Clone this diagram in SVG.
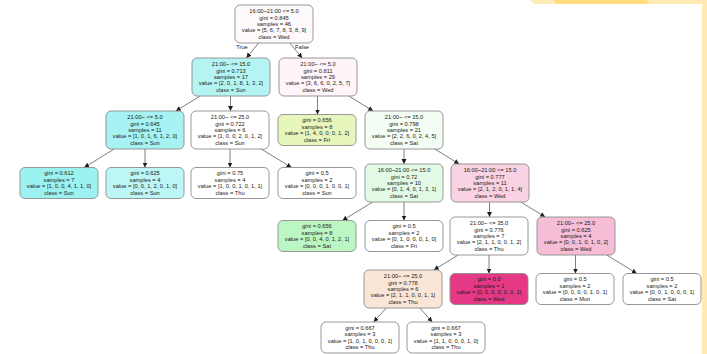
<svg xmlns="http://www.w3.org/2000/svg" width="707" height="354" viewBox="0 0 707 354">
  <style>
    .box { stroke: #8c8c8c; stroke-width: 0.9; }
    .t { font-family: "Liberation Sans", Arial, sans-serif; font-size: 5.7px; fill: #1a1a1a; text-anchor: middle; }
    .edge { stroke: #707070; stroke-width: 0.9; fill: none; marker-end: url(#arrow); }
  </style>
  <defs>
    <marker id="arrow" markerUnits="userSpaceOnUse" markerWidth="6" markerHeight="6" refX="5" refY="2.5" orient="auto">
      <path d="M0,0 L5,2.5 L0,5 Z" fill="#1e1e1e"/>
    </marker>
  </defs>

  <rect x="0" y="0" width="707" height="354" fill="#ffffff"/>

  <!-- frame accents, upper right -->
  <g id="frame">
    <polygon points="530,0 707,0 707,4 534,4" fill="#ffebb3"/>
    <polygon points="553,0 646,0 650,4 557,4" fill="#ffdd7c"/>
    <rect x="702" y="0" width="5" height="354" fill="#ffebb3"/>
  </g>

  <!-- connectors -->
  <g id="edges">
    <line class="edge" x1="258.6" y1="43" x2="246.4" y2="58"/>
    <line class="edge" x1="289.8" y1="43" x2="302.2" y2="58"/>
    <line class="edge" x1="200.2" y1="96" x2="175.8" y2="111"/>
    <line class="edge" x1="230.5" y1="96" x2="230.5" y2="111"/>
    <line class="edge" x1="317.5" y1="96" x2="317.5" y2="114.5"/>
    <line class="edge" x1="348.8" y1="96" x2="373.2" y2="111"/>
    <line class="edge" x1="114.2" y1="149" x2="84.2" y2="167.5"/>
    <line class="edge" x1="145" y1="149" x2="145" y2="167.5"/>
    <line class="edge" x1="230" y1="149" x2="230" y2="167.5"/>
    <line class="edge" x1="261.2" y1="149" x2="291.6" y2="167.5"/>
    <line class="edge" x1="404" y1="149" x2="404" y2="164"/>
    <line class="edge" x1="434.8" y1="149" x2="459.2" y2="164"/>
    <line class="edge" x1="372.8" y1="202" x2="342.4" y2="220.5"/>
    <line class="edge" x1="404" y1="202" x2="404" y2="220.5"/>
    <line class="edge" x1="489.5" y1="202" x2="489.5" y2="217"/>
    <line class="edge" x1="520.8" y1="202" x2="545.2" y2="217"/>
    <line class="edge" x1="458.2" y1="255" x2="433.8" y2="270"/>
    <line class="edge" x1="489" y1="255" x2="489" y2="273.5"/>
    <line class="edge" x1="575.5" y1="255" x2="575.5" y2="273.5"/>
    <line class="edge" x1="606.8" y1="255" x2="636.8" y2="273.5"/>
    <line class="edge" x1="386.2" y1="308" x2="373.7" y2="322"/>
    <line class="edge" x1="419.8" y1="308" x2="432.3" y2="322"/>
    <text class="t" x="242" y="49">True</text>
    <text class="t" x="302" y="49">False</text>
  </g>

  <!-- decision nodes (5 lines) and leaves (4 lines) -->
  <g id="n0">
    <rect class="box" x="235" y="5" width="78" height="38" rx="5" fill="#fef9fb"/>
    <text class="t" x="274" y="13.2">16:00~21:00 &lt;= 5.0<tspan x="274" dy="6.4">gini = 0.845</tspan><tspan x="274" dy="6.4">samples = 46</tspan><tspan x="274" dy="6.4">value = [5, 6, 7, 8, 3, 8, 9]</tspan><tspan x="274" dy="6.4">class = Wed</tspan></text>
  </g>
  <g id="n1">
    <rect class="box" x="192" y="58" width="78" height="38" rx="5" fill="#b4f5f4"/>
    <text class="t" x="231" y="66.2">21:00~ &lt;= 15.0<tspan x="231" dy="6.4">gini = 0.713</tspan><tspan x="231" dy="6.4">samples = 17</tspan><tspan x="231" dy="6.4">value = [2, 0, 1, 8, 1, 3, 2]</tspan><tspan x="231" dy="6.4">class = Sun</tspan></text>
  </g>
  <g id="n2">
    <rect class="box" x="279" y="58" width="78" height="38" rx="5" fill="#fef4f9"/>
    <text class="t" x="318" y="66.2">21:00~ &lt;= 5.0<tspan x="318" dy="6.4">gini = 0.811</tspan><tspan x="318" dy="6.4">samples = 29</tspan><tspan x="318" dy="6.4">value = [3, 6, 6, 0, 2, 5, 7]</tspan><tspan x="318" dy="6.4">class = Wed</tspan></text>
  </g>
  <g id="n3">
    <rect class="box" x="106" y="111" width="78" height="38" rx="5" fill="#a7f3f3"/>
    <text class="t" x="145" y="119.2">21:00~ &lt;= 5.0<tspan x="145" dy="6.4">gini = 0.645</tspan><tspan x="145" dy="6.4">samples = 11</tspan><tspan x="145" dy="6.4">value = [1, 0, 1, 6, 1, 2, 0]</tspan><tspan x="145" dy="6.4">class = Sun</tspan></text>
  </g>
  <g id="n4">
    <rect class="box" x="191" y="111" width="78" height="38" rx="5" fill="#ffffff"/>
    <text class="t" x="230" y="119.2">21:00~ &lt;= 25.0<tspan x="230" dy="6.4">gini = 0.722</tspan><tspan x="230" dy="6.4">samples = 6</tspan><tspan x="230" dy="6.4">value = [1, 0, 0, 2, 0, 1, 2]</tspan><tspan x="230" dy="6.4">class = Sun</tspan></text>
  </g>
  <g id="n5">
    <rect class="box" x="278" y="114.5" width="78" height="31" rx="5" fill="#e7f6bd"/>
    <text class="t" x="317" y="122.4">gini = 0.656<tspan x="317" dy="6.4">samples = 8</tspan><tspan x="317" dy="6.4">value = [1, 4, 0, 0, 0, 1, 2]</tspan><tspan x="317" dy="6.4">class = Fri</tspan></text>
  </g>
  <g id="n6">
    <rect class="box" x="365" y="111" width="78" height="38" rx="5" fill="#f3fdf4"/>
    <text class="t" x="404" y="119.2">21:00~ &lt;= 15.0<tspan x="404" dy="6.4">gini = 0.798</tspan><tspan x="404" dy="6.4">samples = 21</tspan><tspan x="404" dy="6.4">value = [2, 2, 6, 0, 2, 4, 5]</tspan><tspan x="404" dy="6.4">class = Sat</tspan></text>
  </g>
  <g id="n7">
    <rect class="box" x="20" y="167.5" width="78" height="31" rx="5" fill="#9cf2f1"/>
    <text class="t" x="59" y="175.4">gini = 0.612<tspan x="59" dy="6.4">samples = 7</tspan><tspan x="59" dy="6.4">value = [1, 0, 0, 4, 1, 1, 0]</tspan><tspan x="59" dy="6.4">class = Sun</tspan></text>
  </g>
  <g id="n8">
    <rect class="box" x="106" y="167.5" width="78" height="31" rx="5" fill="#bdf6f6"/>
    <text class="t" x="145" y="175.4">gini = 0.625<tspan x="145" dy="6.4">samples = 4</tspan><tspan x="145" dy="6.4">value = [0, 0, 1, 2, 0, 1, 0]</tspan><tspan x="145" dy="6.4">class = Sun</tspan></text>
  </g>
  <g id="n9">
    <rect class="box" x="191" y="167.5" width="78" height="31" rx="5" fill="#ffffff"/>
    <text class="t" x="230" y="175.4">gini = 0.75<tspan x="230" dy="6.4">samples = 4</tspan><tspan x="230" dy="6.4">value = [1, 0, 0, 1, 0, 1, 1]</tspan><tspan x="230" dy="6.4">class = Thu</tspan></text>
  </g>
  <g id="n10">
    <rect class="box" x="278" y="167.5" width="78" height="31" rx="5" fill="#ffffff"/>
    <text class="t" x="317" y="175.4">gini = 0.5<tspan x="317" dy="6.4">samples = 2</tspan><tspan x="317" dy="6.4">value = [0, 0, 0, 1, 0, 0, 1]</tspan><tspan x="317" dy="6.4">class = Sun</tspan></text>
  </g>
  <g id="n11">
    <rect class="box" x="365" y="164" width="78" height="38" rx="5" fill="#e3fbe6"/>
    <text class="t" x="404" y="172.2">16:00~21:00 &lt;= 15.0<tspan x="404" dy="6.4">gini = 0.72</tspan><tspan x="404" dy="6.4">samples = 10</tspan><tspan x="404" dy="6.4">value = [0, 1, 4, 0, 1, 3, 1]</tspan><tspan x="404" dy="6.4">class = Sat</tspan></text>
  </g>
  <g id="n12">
    <rect class="box" x="451" y="164" width="78" height="38" rx="5" fill="#f9d3e4"/>
    <text class="t" x="490" y="172.2">16:00~21:00 &lt;= 15.0<tspan x="490" dy="6.4">gini = 0.777</tspan><tspan x="490" dy="6.4">samples = 11</tspan><tspan x="490" dy="6.4">value = [2, 1, 2, 0, 1, 1, 4]</tspan><tspan x="490" dy="6.4">class = Wed</tspan></text>
  </g>
  <g id="n13">
    <rect class="box" x="278" y="220.5" width="78" height="31" rx="5" fill="#bdf6c5"/>
    <text class="t" x="317" y="228.4">gini = 0.656<tspan x="317" dy="6.4">samples = 8</tspan><tspan x="317" dy="6.4">value = [0, 0, 4, 0, 1, 2, 1]</tspan><tspan x="317" dy="6.4">class = Sat</tspan></text>
  </g>
  <g id="n14">
    <rect class="box" x="365" y="220.5" width="78" height="31" rx="5" fill="#ffffff"/>
    <text class="t" x="404" y="228.4">gini = 0.5<tspan x="404" dy="6.4">samples = 2</tspan><tspan x="404" dy="6.4">value = [0, 1, 0, 0, 0, 1, 0]</tspan><tspan x="404" dy="6.4">class = Fri</tspan></text>
  </g>
  <g id="n15">
    <rect class="box" x="450" y="217" width="78" height="38" rx="5" fill="#ffffff"/>
    <text class="t" x="489" y="225.2">21:00~ &lt;= 35.0<tspan x="489" dy="6.4">gini = 0.776</tspan><tspan x="489" dy="6.4">samples = 7</tspan><tspan x="489" dy="6.4">value = [2, 1, 1, 0, 0, 1, 2]</tspan><tspan x="489" dy="6.4">class = Thu</tspan></text>
  </g>
  <g id="n16">
    <rect class="box" x="537" y="217" width="78" height="38" rx="5" fill="#f6bdd6"/>
    <text class="t" x="576" y="225.2">21:00~ &lt;= 25.0<tspan x="576" dy="6.4">gini = 0.625</tspan><tspan x="576" dy="6.4">samples = 4</tspan><tspan x="576" dy="6.4">value = [0, 0, 1, 0, 1, 0, 2]</tspan><tspan x="576" dy="6.4">class = Wed</tspan></text>
  </g>
  <g id="n17">
    <rect class="box" x="364" y="270" width="78" height="38" rx="5" fill="#fae6d7"/>
    <text class="t" x="403" y="278.2">21:00~ &lt;= 25.0<tspan x="403" dy="6.4">gini = 0.778</tspan><tspan x="403" dy="6.4">samples = 6</tspan><tspan x="403" dy="6.4">value = [2, 1, 1, 0, 0, 1, 1]</tspan><tspan x="403" dy="6.4">class = Thu</tspan></text>
  </g>
  <g id="n18">
    <rect class="box" x="450" y="273.5" width="78" height="31" rx="5" fill="#e53985"/>
    <text class="t" x="489" y="281.4">gini = 0.0<tspan x="489" dy="6.4">samples = 1</tspan><tspan x="489" dy="6.4">value = [0, 0, 0, 0, 0, 0, 1]</tspan><tspan x="489" dy="6.4">class = Wed</tspan></text>
  </g>
  <g id="n19">
    <rect class="box" x="536" y="273.5" width="78" height="31" rx="5" fill="#ffffff"/>
    <text class="t" x="575" y="281.4">gini = 0.5<tspan x="575" dy="6.4">samples = 2</tspan><tspan x="575" dy="6.4">value = [0, 0, 0, 0, 1, 0, 1]</tspan><tspan x="575" dy="6.4">class = Mon</tspan></text>
  </g>
  <g id="n20">
    <rect class="box" x="623" y="273.5" width="78" height="31" rx="5" fill="#ffffff"/>
    <text class="t" x="662" y="281.4">gini = 0.5<tspan x="662" dy="6.4">samples = 2</tspan><tspan x="662" dy="6.4">value = [0, 0, 1, 0, 0, 0, 1]</tspan><tspan x="662" dy="6.4">class = Sat</tspan></text>
  </g>
  <g id="n21">
    <rect class="box" x="321" y="322" width="78" height="31" rx="5" fill="#ffffff"/>
    <text class="t" x="360" y="329.9">gini = 0.667<tspan x="360" dy="6.4">samples = 3</tspan><tspan x="360" dy="6.4">value = [1, 0, 1, 0, 0, 0, 1]</tspan><tspan x="360" dy="6.4">class = Thu</tspan></text>
  </g>
  <g id="n22">
    <rect class="box" x="407" y="322" width="78" height="31" rx="5" fill="#ffffff"/>
    <text class="t" x="446" y="329.9">gini = 0.667<tspan x="446" dy="6.4">samples = 3</tspan><tspan x="446" dy="6.4">value = [1, 1, 0, 0, 0, 1, 0]</tspan><tspan x="446" dy="6.4">class = Thu</tspan></text>
  </g>
</svg>
